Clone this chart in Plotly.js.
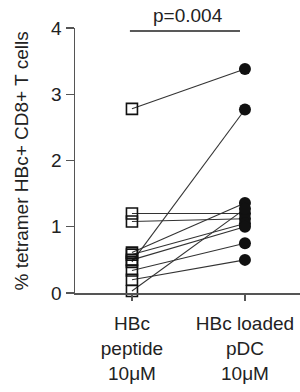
<!DOCTYPE html>
<html>
<head>
<meta charset="utf-8">
<script src="https://cdn.plot.ly/plotly-3.0.1.min.js"></script>
<style>html,body{margin:0;padding:0;background:#fff;}#chart{width:300px;height:392px;}</style>
</head>
<body>
<div id="chart"></div>
<script>
// Data
const groups = ["HBc<br>peptide<br>10μM", "HBc loaded<br>pDC<br>10μM"];
const peptide = [2.78, 1.20, 1.08, 0.61, 0.58, 0.50, 0.47, 0.34, 0.20, 0.03];
const loadedPDC = [3.38, 1.20, 1.12, 1.36, 1.05, 1.00, 2.77, 0.75, 0.50, 1.27];
const yTicks = [0, 1, 2, 3, 4];
const yTitle = '% tetramer HBc+ CD8+ T cells';
const pLabel = "p=0.004";

const FONT = "Liberation Sans, Arial, sans-serif";
const traces = [];
for (let i = 0; i < peptide.length; i++) {
  traces.push({
    x: [0, 1], y: [peptide[i], loadedPDC[i]],
    mode: 'lines', type: 'scatter', showlegend: false, hoverinfo: 'skip',
    line: {color: '#333', width: 1.1}, cliponaxis: false
  });
}
traces.push({
  x: peptide.map(() => 0), y: peptide, mode: 'markers', type: 'scatter', showlegend: false,
  marker: {symbol: 'square-open', size: 11, color: '#111', line: {width: 1.6, color: '#111'}},
  cliponaxis: false
});
traces.push({
  x: loadedPDC.map(() => 1), y: loadedPDC, mode: 'markers', type: 'scatter', showlegend: false,
  marker: {symbol: 'circle', size: 12, color: '#111'},
  cliponaxis: false
});

const layout = {
  width: 300, height: 392,
  margin: {l: 75, r: 0, t: 28, b: 99},
  paper_bgcolor: '#fff', plot_bgcolor: '#fff',
  font: {family: FONT, color: '#222', size: 19},
  xaxis: {
    range: [-0.504, 1.487], tickvals: [0, 1], ticktext: groups,
    showline: true, linecolor: '#555', linewidth: 1.5,
    ticks: 'outside', ticklen: 6, tickwidth: 1.2, tickcolor: '#555',
    showgrid: false, zeroline: false, ticklabelstandoff: 7,
    tickfont: {family: FONT, size: 19, color: '#222'}
  },
  yaxis: {
    range: [0, 4], tickvals: yTicks,
    showline: true, linecolor: '#555', linewidth: 1.5,
    ticks: 'outside', ticklen: 8, tickwidth: 1.2, tickcolor: '#555',
    showgrid: false, zeroline: false,
    tickfont: {family: FONT, size: 19, color: '#222'}
  },
  shapes: [{type: 'line', xref: 'x', yref: 'y', x0: -0.018, x1: 0.956, y0: 3.955, y1: 3.955,
            line: {color: '#222', width: 1.5}}],
  annotations: [
    {x: 0.496, y: 1.048, xref: 'x', yref: 'paper', text: pLabel, showarrow: false,
     yanchor: 'middle', font: {family: FONT, size: 19, color: '#222'}},
    {x: -0.236, y: 0.5, xref: 'paper', yref: 'paper', text: yTitle, showarrow: false,
     textangle: -90, xanchor: 'center', yanchor: 'middle', font: {family: FONT, size: 19, color: '#222'}}
  ]
};
Plotly.newPlot('chart', traces, layout, {displayModeBar: false, staticPlot: true});
</script>
</body>
</html>
